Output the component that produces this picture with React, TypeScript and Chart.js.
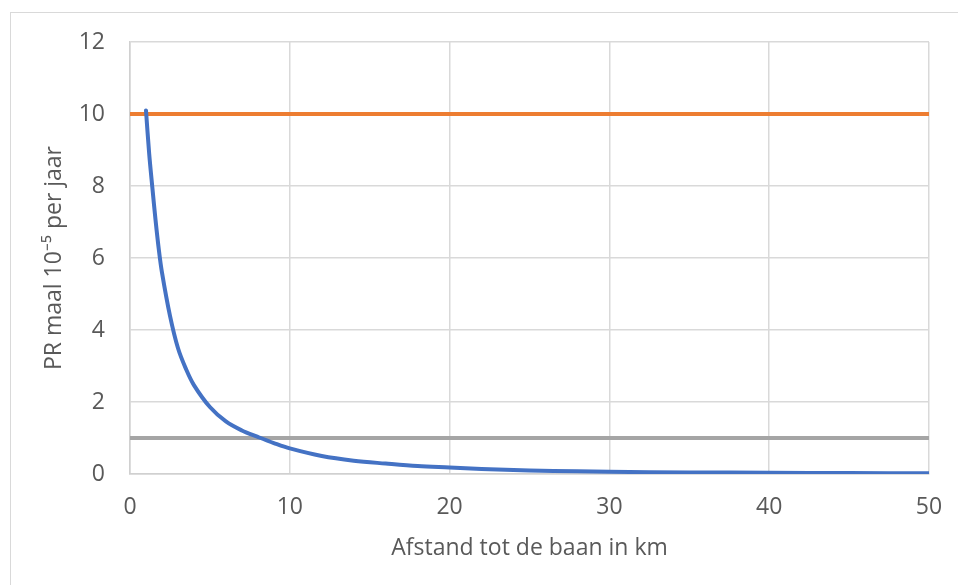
import React, { useEffect, useRef } from "react";
import { Chart, registerables } from "chart.js";

Chart.register(...registerables);

const distanceKm = [1, 1.2, 1.4, 1.6, 1.8, 2, 2.5, 3, 3.5, 4, 5, 6, 7, 8, 9, 10, 12, 14, 16, 18, 20, 22, 25, 28, 30, 35, 40, 45, 50];
const prValues = [10.1, 8.9, 7.95, 7.05, 6.25, 5.6, 4.4, 3.5, 2.92, 2.47, 1.86, 1.46, 1.21, 1.03, 0.86, 0.71, 0.5, 0.37, 0.29, 0.22, 0.18, 0.14, 0.1, 0.075, 0.06, 0.045, 0.035, 0.025, 0.02];
const orangeLevel = 10;
const grayLevel = 1;
const xRange = [0, 50];
const yRange = [0, 12];

const FONT = "'Open Sans', sans-serif";
const FS = 23;

export default function App() {
  const ref = useRef<HTMLCanvasElement | null>(null);
  useEffect(() => {
    if (!ref.current) return;
    const chart = new Chart(ref.current, {
      type: "scatter",
      data: {
        datasets: [
          {
            label: "PR",
            data: distanceKm.map((x, i) => ({ x, y: prValues[i] })),
            showLine: true,
            borderColor: "#4472C4",
            borderWidth: 4,
            pointRadius: 0,
            tension: 0.35,
            borderCapStyle: "round",
            order: 0,
          },
          {
            label: "10",
            data: xRange.map((x) => ({ x, y: orangeLevel })),
            showLine: true,
            borderColor: "#ED7D31",
            borderWidth: 4,
            pointRadius: 0,
            order: 1,
          },
          {
            label: "1",
            data: xRange.map((x) => ({ x, y: grayLevel })),
            showLine: true,
            borderColor: "#A5A5A5",
            borderWidth: 4,
            pointRadius: 0,
            order: 2,
          },
        ],
      },
      options: {
        animation: false,
        responsive: false,
        maintainAspectRatio: false,
        layout: { padding: { left: 0, right: 29, top: 42, bottom: 0 } },
        plugins: { legend: { display: false }, tooltip: { enabled: false } },
        scales: {
          x: {
            type: "linear",
            min: xRange[0],
            max: xRange[1],
            ticks: { stepSize: 10, padding: 20, color: "#595959", font: { family: FONT, size: FS } },
            grid: { color: "#d9d9d9", lineWidth: 1.5, drawTicks: false },
            border: { color: "#d0d0d0", width: 1.5 },
            title: {
              display: true,
              text: "Afstand tot de baan in km",
              color: "#595959",
              font: { family: FONT, size: FS },
              padding: { top: 0, bottom: 23 },
            },
            afterFit: (s: any) => { s.height = 111; s.paddingRight = 0; s.paddingLeft = 0; },
          },
          y: {
            type: "linear",
            min: yRange[0],
            max: yRange[1],
            ticks: { stepSize: 2, padding: 25, color: "#595959", font: { family: FONT, size: FS } },
            grid: { color: "#d9d9d9", lineWidth: 1.5, drawTicks: false },
            border: { color: "#d0d0d0", width: 1.5 },
            title: {
              display: true,
              text: "PR maal 10⁻⁵ per jaar",
              color: "#595959",
              font: { family: FONT, size: FS },
              padding: { top: 41, bottom: 0 },
            },
            afterFit: (s: any) => { s.width = 130; },
          },
        },
      },
    });
    return () => chart.destroy();
  }, []);
  return (
    <div style={{ position: "fixed", left: 0, top: 0, width: 958, height: 585, overflow: "hidden", background: "#fff" }}>
      <div style={{ position: "absolute", left: 10, top: 12, width: 1000, height: 1000, borderLeft: "1.5px solid #d9d9d9", borderTop: "1.5px solid #d9d9d9" }} />
      <canvas ref={ref} width={958} height={585} style={{ position: "absolute", left: 0, top: 0 }} />
    </div>
  );
}
